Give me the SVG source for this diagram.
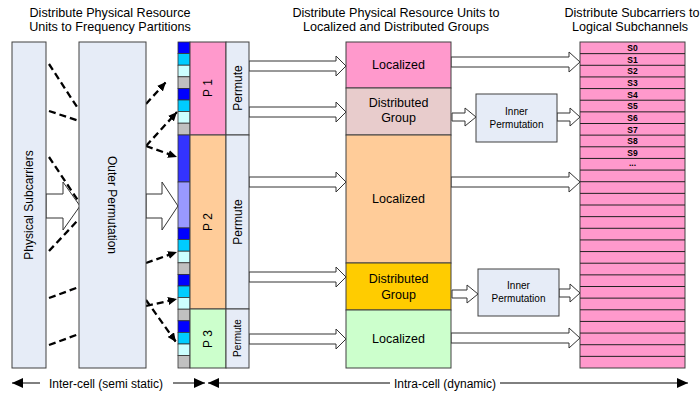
<svg xmlns="http://www.w3.org/2000/svg" width="700" height="402" viewBox="0 0 700 402">
<defs>
<style>
text{font-family:"Liberation Sans",Arial,sans-serif;fill:#000}
.hd{font-size:12.6px;text-anchor:middle}
.box{stroke:#404040;stroke-width:1}
.lb{fill:#e6ecf7}
.t12{font-size:12px;text-anchor:middle}
.t125{font-size:12.5px;text-anchor:middle}
.t10{font-size:10px;text-anchor:middle}
.sl{font-size:8.5px;font-weight:bold;text-anchor:middle}
.blk{fill:#fff;stroke:#333;stroke-width:1}
.dash{fill:none;stroke:#000;stroke-width:2.3;stroke-dasharray:7 4}
.sq{stroke:#333;stroke-width:0.8}
.row{stroke:#222;stroke-width:1}
</style>
<marker id="dh" markerWidth="10" markerHeight="8" refX="9" refY="4" orient="auto" markerUnits="userSpaceOnUse"><path d="M0,0 L9,4 L0,8 Z" fill="#000"/></marker>
<marker id="bh" markerWidth="12" markerHeight="10" refX="11" refY="5" orient="auto-start-reverse" markerUnits="userSpaceOnUse"><path d="M0,0 L11,5 L0,10 Z" fill="#000"/></marker>
</defs>
<rect width="700" height="402" fill="#fff"/>

<g id="headers">
<text class="hd" x="110" y="17">Distribute Physical Resource</text>
<text class="hd" x="110" y="31">Units to Frequency Partitions</text>
<text class="hd" x="396" y="17">Distribute Physical Resource Units to</text>
<text class="hd" x="396" y="31">Localized and Distributed Groups</text>
<text class="hd" x="632" y="17">Distribute Subcarriers to</text>
<text class="hd" x="630" y="31">Logical Subchannels</text>
</g>

<g id="connectors">
<line class="dash" x1="49" y1="64" x2="79" y2="110"/>
<line class="dash" x1="49" y1="111" x2="79" y2="121"/>
<line class="dash" x1="49" y1="157" x2="79" y2="202"/>
<line class="dash" x1="49" y1="251" x2="79" y2="219"/>
<line class="dash" x1="49" y1="298" x2="79" y2="287"/>
<line class="dash" x1="49" y1="345" x2="79" y2="334"/>
<line class="dash" x1="146" y1="104" x2="166" y2="82" marker-end="url(#dh)"/>
<line class="dash" x1="146" y1="146" x2="177" y2="112" marker-end="url(#dh)"/>
<line class="dash" x1="146" y1="146" x2="177" y2="157" marker-end="url(#dh)"/>
<line class="dash" x1="146" y1="263" x2="177" y2="252" marker-end="url(#dh)"/>
<line class="dash" x1="146" y1="306" x2="177" y2="299" marker-end="url(#dh)"/>
<line class="dash" x1="146" y1="300" x2="176" y2="342" marker-end="url(#dh)"/>
<path class="blk" d="M46,194 H63 V182 L80,206 L63,230 V218 H46 Z"/>
<path class="blk" d="M146,194 H162 V182 L178,206 L162,230 V218 H146 Z"/>
<path class="blk" d="M249,61 H336 V56 L346,66 L336,76 V71 H249 Z"/>
<path class="blk" d="M249,107 H336 V102 L346,112 L336,122 V117 H249 Z"/>
<path class="blk" d="M249,177 H336 V172 L346,182 L336,192 V187 H249 Z"/>
<path class="blk" d="M249,272 H336 V267 L346,277 L336,287 V282 H249 Z"/>
<path class="blk" d="M249,334 H336 V329 L346,339 L336,349 V344 H249 Z"/>
<path class="blk" d="M451,57 H569 V52 L580,62 L569,72 V67 H451 Z"/>
<path class="blk" d="M451,177 H569 V172 L580,182 L569,192 V187 H451 Z"/>
<path class="blk" d="M451,333 H569 V328 L580,338 L569,348 V343 H451 Z"/>
<path class="blk" d="M452,113 H465 V108 L476,117 L465,126 V121 H452 Z"/>
<path class="blk" d="M557,113 H570 V108 L580,117 L570,126 V121 H557 Z"/>
<path class="blk" d="M452,290 H467 V285 L478,294 L467,303 V298 H452 Z"/>
<path class="blk" d="M559,289 H570 V284 L580,293 L570,302 V297 H559 Z"/>
<line x1="12" y1="383" x2="40" y2="383" stroke="#000" stroke-width="1" marker-start="url(#bh)"/>
<line x1="173" y1="383" x2="205" y2="383" stroke="#000" stroke-width="1" marker-end="url(#bh)"/>
<line x1="208" y1="383" x2="390" y2="383" stroke="#000" stroke-width="1" marker-start="url(#bh)"/>
<line x1="500" y1="383" x2="688" y2="383" stroke="#000" stroke-width="1" marker-end="url(#bh)"/>
</g>

<g id="physical-subcarriers">
<rect class="box lb" x="12" y="42" width="34" height="326"/>
<text class="t12" transform="translate(33,205) rotate(-90)">Physical Subcarriers</text>
</g>

<g id="outer-permutation">
<rect class="box lb" x="79" y="42" width="67" height="326"/>
<text class="t12" transform="translate(108,205) rotate(90)">Outer Permutation</text>
</g>

<g id="resource-units">
<rect class="sq" x="178" y="42" width="12" height="11.6" fill="#0000ff"/>
<rect class="sq" x="178" y="53.6" width="12" height="11.6" fill="#00ccff"/>
<rect class="sq" x="178" y="65.2" width="12" height="11.6" fill="#ccffff"/>
<rect class="sq" x="178" y="76.8" width="12" height="11.6" fill="#c0c0c0"/>
<rect class="sq" x="178" y="88.4" width="12" height="11.6" fill="#0000ff"/>
<rect class="sq" x="178" y="100" width="12" height="11.6" fill="#00ccff"/>
<rect class="sq" x="178" y="111.6" width="12" height="11.6" fill="#ccffff"/>
<rect class="sq" x="178" y="123.2" width="12" height="11.8" fill="#c0c0c0"/>
<rect class="sq" x="178" y="135" width="12" height="47" fill="#3333ff"/>
<rect class="sq" x="178" y="182" width="12" height="46" fill="#9999ff"/>
<rect class="sq" x="178" y="228" width="12" height="11.6" fill="#0000ff"/>
<rect class="sq" x="178" y="239.6" width="12" height="11.6" fill="#00ccff"/>
<rect class="sq" x="178" y="251.2" width="12" height="11.6" fill="#ccffff"/>
<rect class="sq" x="178" y="262.8" width="12" height="11.6" fill="#c0c0c0"/>
<rect class="sq" x="178" y="274.4" width="12" height="11.6" fill="#0000ff"/>
<rect class="sq" x="178" y="286" width="12" height="11.6" fill="#00ccff"/>
<rect class="sq" x="178" y="297.6" width="12" height="11.6" fill="#ccffff"/>
<rect class="sq" x="178" y="309.2" width="12" height="11.6" fill="#c0c0c0"/>
<rect class="sq" x="178" y="320.8" width="12" height="11.6" fill="#0000ff"/>
<rect class="sq" x="178" y="332.4" width="12" height="11.6" fill="#00ccff"/>
<rect class="sq" x="178" y="344" width="12" height="11.6" fill="#ccffff"/>
<rect class="sq" x="178" y="355.6" width="12" height="12.4" fill="#c0c0c0"/>
</g>

<g id="partition-p1">
<rect class="box" x="190" y="42" width="36" height="93" fill="#ff99cc"/>
<text class="t12" transform="translate(212,88) rotate(-90)">P 1</text>
<rect class="box lb" x="226" y="42" width="23" height="93"/>
<text class="t12" transform="translate(242,88) rotate(-90)">Permute</text>
</g>
<g id="partition-p2">
<rect class="box" x="190" y="135" width="36" height="174" fill="#ffcc99"/>
<text class="t12" transform="translate(212,222) rotate(-90)">P 2</text>
<rect class="box lb" x="226" y="135" width="23" height="174"/>
<text class="t12" transform="translate(242,222) rotate(-90)">Permute</text>
</g>
<g id="partition-p3">
<rect class="box" x="190" y="309" width="36" height="59" fill="#ccffcc"/>
<text class="t12" transform="translate(212,339) rotate(-90)">P 3</text>
<rect class="box lb" x="226" y="309" width="23" height="59"/>
<text class="t10" transform="translate(241,338) rotate(-90)">Permute</text>
</g>

<g id="localized-1">
<rect class="box" x="346" y="42" width="105" height="46" fill="#ff99cc"/>
<text class="t125" x="398.5" y="69">Localized</text>
</g>
<g id="distributed-1">
<rect class="box" x="346" y="88" width="105" height="47" fill="#e8cccc"/>
<text class="t125" x="398.5" y="107">Distributed</text>
<text class="t125" x="398.5" y="122">Group</text>
</g>
<g id="localized-2">
<rect class="box" x="346" y="135" width="105" height="128" fill="#ffcc99"/>
<text class="t125" x="398.5" y="203">Localized</text>
</g>
<g id="distributed-2">
<rect class="box" x="346" y="263" width="105" height="47" fill="#ffcc00"/>
<text class="t125" x="398.5" y="283">Distributed</text>
<text class="t125" x="398.5" y="299">Group</text>
</g>
<g id="localized-3">
<rect class="box" x="346" y="310" width="105" height="58" fill="#ccffcc"/>
<text class="t125" x="398.5" y="343">Localized</text>
</g>

<g id="inner-permutation-1">
<rect class="box lb" x="476" y="94" width="81" height="48"/>
<text class="t10" x="516.5" y="115">Inner</text>
<text class="t10" x="516.5" y="128">Permutation</text>
</g>
<g id="inner-permutation-2">
<rect class="box lb" x="478" y="269" width="81" height="47"/>
<text class="t10" x="518.5" y="289">Inner</text>
<text class="t10" x="518.5" y="302">Permutation</text>
</g>

<g id="logical-subchannels">
<rect class="box" x="580" y="42" width="105" height="326" fill="#ff99cc"/>
<g class="row">
<line x1="580" y1="53.64" x2="685" y2="53.64"/>
<line x1="580" y1="65.29" x2="685" y2="65.29"/>
<line x1="580" y1="76.93" x2="685" y2="76.93"/>
<line x1="580" y1="88.57" x2="685" y2="88.57"/>
<line x1="580" y1="100.21" x2="685" y2="100.21"/>
<line x1="580" y1="111.86" x2="685" y2="111.86"/>
<line x1="580" y1="123.5" x2="685" y2="123.5"/>
<line x1="580" y1="135.14" x2="685" y2="135.14"/>
<line x1="580" y1="146.79" x2="685" y2="146.79"/>
<line x1="580" y1="158.43" x2="685" y2="158.43"/>
<line x1="580" y1="170.07" x2="685" y2="170.07"/>
<line x1="580" y1="181.71" x2="685" y2="181.71"/>
<line x1="580" y1="193.36" x2="685" y2="193.36"/>
<line x1="580" y1="205" x2="685" y2="205"/>
<line x1="580" y1="216.64" x2="685" y2="216.64"/>
<line x1="580" y1="228.29" x2="685" y2="228.29"/>
<line x1="580" y1="239.93" x2="685" y2="239.93"/>
<line x1="580" y1="251.57" x2="685" y2="251.57"/>
<line x1="580" y1="263.21" x2="685" y2="263.21"/>
<line x1="580" y1="274.86" x2="685" y2="274.86"/>
<line x1="580" y1="286.5" x2="685" y2="286.5"/>
<line x1="580" y1="298.14" x2="685" y2="298.14"/>
<line x1="580" y1="309.79" x2="685" y2="309.79"/>
<line x1="580" y1="321.43" x2="685" y2="321.43"/>
<line x1="580" y1="333.07" x2="685" y2="333.07"/>
<line x1="580" y1="344.71" x2="685" y2="344.71"/>
<line x1="580" y1="356.36" x2="685" y2="356.36"/>
</g>
<text class="sl" x="632.5" y="51">S0</text>
<text class="sl" x="632.5" y="62.6">S1</text>
<text class="sl" x="632.5" y="74.3">S2</text>
<text class="sl" x="632.5" y="85.9">S3</text>
<text class="sl" x="632.5" y="97.6">S4</text>
<text class="sl" x="632.5" y="109.2">S5</text>
<text class="sl" x="632.5" y="120.9">S6</text>
<text class="sl" x="632.5" y="132.5">S7</text>
<text class="sl" x="632.5" y="144.1">S8</text>
<text class="sl" x="632.5" y="155.8">S9</text>
<text class="sl" x="632.5" y="166.4">...</text>
</g>

<g id="span-labels">
<text class="t12" x="106" y="388">Inter-cell (semi static)</text>
<text class="t12" x="445" y="388">Intra-cell (dynamic)</text>
</g>
</svg>
